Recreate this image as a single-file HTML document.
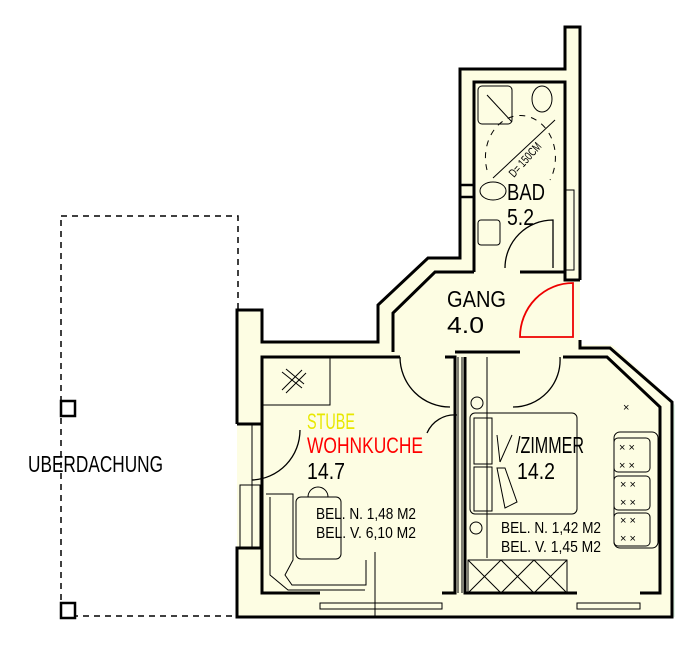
<!DOCTYPE html>
<html><head><meta charset="utf-8"><style>html,body{margin:0;padding:0;background:#fff}svg{display:block}text{font-family:"Liberation Sans",sans-serif}</style></head>
<body>
<svg width="700" height="645" viewBox="0 0 700 645" xmlns="http://www.w3.org/2000/svg">
<rect width="700" height="645" fill="#fff"/>
<!-- canopy -->
<rect x="61" y="216" width="177" height="400" fill="none" stroke="#000" stroke-width="1.5" stroke-dasharray="6,5"/>
<rect x="61" y="401" width="14" height="15" fill="#fff" stroke="#000" stroke-width="2.5"/>
<rect x="61" y="603" width="14" height="15" fill="#fff" stroke="#000" stroke-width="2.5"/>
<text x="28" y="472" font-size="23" textLength="135" lengthAdjust="spacingAndGlyphs">UBERDACHUNG</text>

<!-- overall fill -->
<polygon points="237,310 262,310 262,342 378,342 378,305 428,258 460,258 460,69 565,69 565,27 580,27 580,345 612,345 672,400 672,617 237,617" fill="#fdfde3"/>
<polygon points="672,402 675,405 675,617 672,617" fill="#e3f6e8"/>

<g fill="none" stroke="#000" stroke-width="3">
<polyline points="237,424 237,310 262,310 262,342 378,342 378,305 428,258 460,258 460,69 565,69 565,27 580,27 580,280"/>
<polyline points="580,340 580,348 610,348 672,402 672,617 237,617 237,548 262,548"/>
<polyline points="262,424 262,548"/>
<line x1="237" y1="424" x2="262" y2="424"/>
<polyline points="400,357 262,357 262,593 320,593"/>
<polyline points="442,593 455,593 455,357 445,357"/>
<line x1="455" y1="352" x2="520" y2="352"/>
<polyline points="465,357 465,593 577,593"/>
<polyline points="640,593 660,593 660,407 607,357 563,357"/>
<polyline points="393,352 393,313 435,272 474,272"/>
<polyline points="520,272 565,272 565,280 580,280"/>
<polyline points="474,272 474,82 565,82 565,272"/>
</g>
<g stroke="#000" stroke-width="1" fill="none">
<rect x="320" y="603" width="122" height="6"/>
<rect x="577" y="603" width="63" height="6"/>
<line x1="252" y1="424" x2="252" y2="548"/>
<rect x="240" y="485" width="20" height="63"/>
<rect x="566" y="190" width="8" height="80"/>
<line x1="458" y1="357" x2="458" y2="593"/>
<line x1="462" y1="357" x2="462" y2="593"/>
</g>
<g stroke="#000" stroke-width="2.5">
<line x1="460" y1="185" x2="474" y2="185"/><line x1="460" y1="197" x2="474" y2="197"/>
</g>

<!-- doors -->
<g fill="none" stroke="#000" stroke-width="1.3">
<path d="M400,357 A50,50 0 0 0 450,407"/>
<path d="M560,357 A47,47 0 0 1 513,407"/>
<path d="M505,268 A48,48 0 0 1 553,220 L553,268"/>
<path d="M300,430 A50,50 0 0 1 252,480"/>
<path d="M427,433 A30,30 0 0 1 457,415"/>
</g>
<g fill="none" stroke="#e00" stroke-width="1.8">
<path d="M520,337 A53,54 0 0 1 573,283 L573,337 Z"/>
</g>

<g fill="none" stroke="#000" stroke-width="1">
<rect x="262" y="357" width="68" height="48"/>
<line x1="282" y1="390" x2="302" y2="370"/><line x1="286" y1="393" x2="306" y2="373"/>
<line x1="282" y1="372" x2="302" y2="388"/><line x1="286" y1="369" x2="304" y2="384"/>
<path d="M266,494 L293,494 L293,560 L285,575 L292,585 L366,585 L366,560"/>
<path d="M270,497 L270,575 L288,590 L365,590"/>
<rect x="296" y="497" width="45" height="62" rx="5"/>
<path d="M308,497 A10,10 0 1 1 328,497"/>
<line x1="375" y1="552" x2="375" y2="618"/>
<rect x="478" y="86" width="34" height="38" rx="4"/>
<line x1="487" y1="95" x2="512" y2="122"/>
<ellipse cx="542" cy="99" rx="10" ry="13"/>
<ellipse cx="493" cy="191" rx="13" ry="9"/>
<rect x="478" y="220" width="22" height="25" rx="3"/>
<path d="M487,170 A35,42 0 1 1 550,180" stroke-dasharray="6,6"/>
<line x1="493" y1="178" x2="555" y2="120"/>
<rect x="470" y="413" width="107" height="101" rx="5"/>
<rect x="474" y="418" width="18" height="46"/><rect x="474" y="467" width="18" height="44"/>
<line x1="497" y1="435" x2="500" y2="462"/><line x1="512" y1="435" x2="500" y2="462"/>
<path d="M497,468 L505,508 L517,502 L505,468 Z"/>
<circle cx="477" cy="403" r="6"/><circle cx="476" cy="528" r="6"/>
<line x1="487" y1="357" x2="487" y2="558"/>
<rect x="614" y="432" width="44" height="116" rx="6"/>
<rect x="614" y="438" width="36" height="34" rx="4"/><rect x="614" y="476" width="36" height="34" rx="4"/><rect x="614" y="513" width="36" height="33" rx="4"/>
<rect x="468" y="560" width="99" height="33"/>
<path d="M468,560 L501,593 M501,560 L468,593 M501,560 L534,593 M534,560 L501,593 M534,560 L567,593 M567,560 L534,593"/>
</g>
<g font-size="11" fill="#000">
<text x="619" y="451">×  ×</text><text x="619" y="469">×  ×</text>
<text x="620" y="488">×  ×</text><text x="620" y="506">×  ×</text>
<text x="620" y="524">×  ×</text><text x="620" y="542">×  ×</text>
<text x="623" y="411">×</text>
</g>

<text x="447" y="307" font-size="23" textLength="59" lengthAdjust="spacingAndGlyphs">GANG</text>
<text x="447" y="333" font-size="23" textLength="37" lengthAdjust="spacingAndGlyphs">4.0</text>
<text x="507" y="200" font-size="23" textLength="38" lengthAdjust="spacingAndGlyphs">BAD</text>
<text x="507" y="225" font-size="23" textLength="27" lengthAdjust="spacingAndGlyphs">5.2</text>
<text transform="translate(514,178) rotate(-48)" font-size="12" textLength="42" lengthAdjust="spacingAndGlyphs">D= 150CM</text>
<text x="307" y="429" font-size="22" fill="#e8e800" textLength="48" lengthAdjust="spacingAndGlyphs">STUBE</text>
<text x="307" y="453" font-size="22" fill="#ff0000" textLength="116" lengthAdjust="spacingAndGlyphs">WOHNKUCHE</text>
<text x="307" y="479" font-size="23" textLength="38" lengthAdjust="spacingAndGlyphs">14.7</text>
<text x="516" y="453" font-size="23" textLength="68" lengthAdjust="spacingAndGlyphs">/ZIMMER</text>
<text x="517" y="479" font-size="23" textLength="38" lengthAdjust="spacingAndGlyphs">14.2</text>
<text x="316" y="519" font-size="16" textLength="100" lengthAdjust="spacingAndGlyphs">BEL. N. 1,48 M2</text>
<text x="316" y="538" font-size="16" textLength="100" lengthAdjust="spacingAndGlyphs">BEL. V. 6,10 M2</text>
<text x="501" y="533" font-size="16" textLength="100" lengthAdjust="spacingAndGlyphs">BEL. N. 1,42 M2</text>
<text x="501" y="552" font-size="16" textLength="100" lengthAdjust="spacingAndGlyphs">BEL. V. 1,45 M2</text>
</svg>
</body></html>
